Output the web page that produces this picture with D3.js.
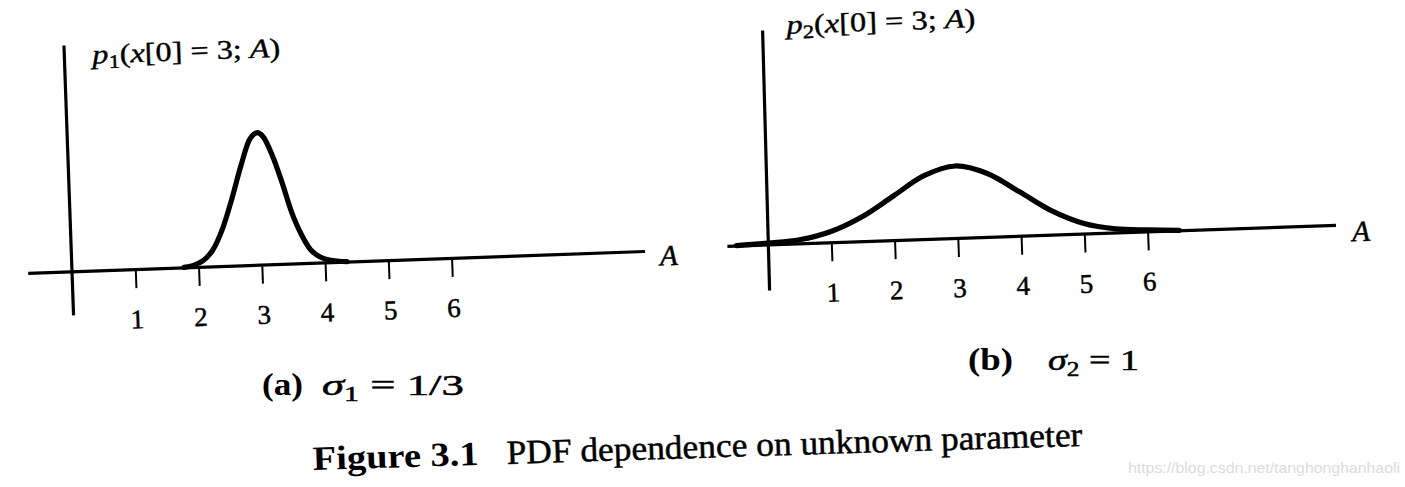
<!DOCTYPE html>
<html>
<head>
<meta charset="utf-8">
<script src="https://cdn.jsdelivr.net/npm/d3@7"></script>
<style>
  html, body { margin: 0; padding: 0; background: #fff; }
  svg { display: block; }
</style>
</head>
<body>
<svg id="chart" width="1405" height="487"></svg>
<script>
// ---------- data ----------
const tickValues = [1, 2, 3, 4, 5, 6];
const tickLabels = ["1", "2", "3", "4", "5", "6"];

// panel (a): sigma1 = 1/3 (relative height)
const aA = [1.77, 1.92, 2.07, 2.23, 2.39, 2.56, 2.73, 2.89, 3.0, 3.09, 3.23, 3.37, 3.5, 3.64, 3.78, 3.92, 4.07, 4.22, 4.35];
const pA = [0.0, 0.013, 0.044, 0.12, 0.27, 0.5, 0.76, 0.96, 1.0, 0.97, 0.82, 0.61, 0.39, 0.22, 0.1, 0.044, 0.016, 0.005, 0.0];

// panel (b): sigma2 = 1
const aB = [-0.5, 0.0, 0.5, 1.0, 1.5, 2.0, 2.5, 3.0, 3.5, 4.0, 4.5, 5.0, 5.5, 6.0, 6.5];
const pB = [0.0, 0.02, 0.05, 0.15, 0.34, 0.61, 0.88, 1.0, 0.88, 0.61, 0.33, 0.14, 0.05, 0.02, 0.0];

const labelA = { p: "p", sub: "1", caption: "(a)", sigmaSub: "1", sigmaVal: "1/3" };
const labelB = { p: "p", sub: "2", caption: "(b)", sigmaSub: "2", sigmaVal: "1" };
const figCaptionBold = "Figure 3.1";
const figCaptionText = "PDF dependence on unknown parameter";
const watermark = "https://blog.csdn.net/tanghonghanhaoli";

// ---------- drawing ----------
const svg = d3.select("#chart");
svg.append("rect").attr("width", 1405).attr("height", 487).attr("fill", "#fff");

const SERIF = "'Liberation Serif', 'Times New Roman', serif";

function ink(sel, w) {
  return sel.attr("fill", "#000").attr("stroke", "#000").attr("stroke-width", w).attr("paint-order", "stroke");
}

function panel(cfg) {
  const g = svg.append("g")
    .attr("transform", `translate(${cfg.ox},${cfg.oy}) rotate(${cfg.rot})`);

  const x = d3.scaleLinear().domain(cfg.xDomain).range([cfg.xDomain[0] * cfg.unit, cfg.xDomain[1] * cfg.unit]);
  const y = d3.scaleLinear().domain([0, 1]).range([0, -cfg.peak]);

  // vertical axis
  g.append("line")
    .attr("x1", cfg.vTopDx).attr("y1", -cfg.vTop)
    .attr("x2", 0).attr("y2", cfg.vBottom)
    .attr("stroke", "#000").attr("stroke-width", 3.2);

  // horizontal axis with ticks
  const axis = d3.axisBottom(x)
    .tickValues(tickValues)
    .tickFormat((d, i) => tickLabels[i])
    .tickSize(19)
    .tickSizeOuter(0)
    .tickPadding(21);
  const ax = g.append("g").call(axis);
  ax.attr("font-family", null).attr("font-size", null);
  ax.select(".domain").attr("stroke", "#000").attr("stroke-width", 3.2);
  ax.selectAll(".tick line").attr("stroke", "#000").attr("stroke-width", 2);
  ink(ax.selectAll(".tick text"), 0.5)
    .style("font-family", SERIF)
    .style("font-size", "27px");

  // curve
  const line = d3.line()
    .x((d, i) => x(cfg.as[i]))
    .y((d) => y(d))
    .curve(d3.curveCatmullRom.alpha(0.5));
  g.append("path")
    .attr("d", line(cfg.ps))
    .attr("fill", "none")
    .attr("stroke", "#000")
    .attr("stroke-width", 5.2)
    .attr("stroke-linejoin", "round")
    .attr("stroke-linecap", "round");

  // y label p_k(x[0] = 3; A)
  const t = ink(g.append("text"), 0.4)
    .attr("x", cfg.lblX).attr("y", cfg.lblY)
    .attr("textLength", cfg.lblW)
    .attr("lengthAdjust", "spacingAndGlyphs")
    .style("font-family", SERIF)
    .style("font-size", "27px");
  t.append("tspan").style("font-style", "italic").text(cfg.lbl.p);
  t.append("tspan").attr("dy", 5).style("font-size", "19px").text(cfg.lbl.sub);
  t.append("tspan").attr("dy", -5).text("(");
  t.append("tspan").style("font-style", "italic").text("x");
  t.append("tspan").text("[0] = 3; ");
  t.append("tspan").style("font-style", "italic").text("A");
  t.append("tspan").text(")");

  // x label A
  ink(g.append("text"), 0.5)
    .attr("x", cfg.aX).attr("y", cfg.aY)
    .attr("text-anchor", "middle")
    .style("font-family", SERIF)
    .style("font-size", "29px")
    .style("font-style", "italic")
    .text("A");

  // sub-caption
  svg.append("text")
    .attr("x", cfg.capX).attr("y", cfg.capY)
    .attr("textLength", cfg.capW)
    .attr("lengthAdjust", "spacingAndGlyphs")
    .style("font-family", SERIF)
    .style("font-size", "31px")
    .style("font-weight", "bold")
    .attr("fill", "#000")
    .text(cfg.lbl.caption);
  const s = ink(svg.append("text"), 0.5)
    .attr("x", cfg.sigX).attr("y", cfg.capY)
    .attr("textLength", cfg.sigW)
    .attr("lengthAdjust", "spacingAndGlyphs")
    .style("font-family", SERIF)
    .style("font-size", "30px");
  s.append("tspan").style("font-style", "italic").text("σ");
  s.append("tspan").attr("dy", 6).style("font-size", "20px").text(cfg.lbl.sigmaSub);
  s.append("tspan").attr("dy", -6).text(" = " + cfg.lbl.sigmaVal);
}

panel({
  ox: 72, oy: 271.4, rot: -2.04, unit: 63.3, xDomain: [-0.7, 9.05],
  peak: 132, as: aA, ps: pA,
  vTop: 226, vTopDx: 0, vBottom: 44,
  lbl: labelA, lblX: 28, lblY: -207, lblW: 188,
  aX: 597, aY: 15,
  capX: 262, capY: 395, capW: 41, sigX: 322, sigW: 142
});

panel({
  ox: 768, oy: 244.5, rot: -1.98, unit: 63.3, xDomain: [-0.65, 8.97],
  peak: 72, as: aB, ps: pB,
  vTop: 214, vTopDx: 2, vBottom: 46,
  lbl: labelB, lblX: 26, lblY: -210, lblW: 189,
  aX: 593, aY: 17,
  capX: 968, capY: 370, capW: 45, sigX: 1048, sigW: 91
});

// figure caption (slightly rotated like the scan)
const fc = svg.append("g").attr("transform", "translate(313,470) rotate(-1.8)");
fc.append("text")
  .attr("x", 0).attr("y", 0)
  .attr("textLength", 166).attr("lengthAdjust", "spacingAndGlyphs")
  .style("font-family", SERIF).style("font-size", "34px").style("font-weight", "bold")
  .attr("fill", "#000").text(figCaptionBold);
ink(fc.append("text"), 0.5)
  .attr("x", 194).attr("y", 0)
  .attr("textLength", 576).attr("lengthAdjust", "spacingAndGlyphs")
  .style("font-family", SERIF).style("font-size", "34px")
  .text(figCaptionText);

// watermark
svg.append("text")
  .attr("x", 1128).attr("y", 473)
  .attr("textLength", 272).attr("lengthAdjust", "spacingAndGlyphs")
  .style("font-family", "'Liberation Sans', Arial, sans-serif")
  .style("font-size", "15px")
  .attr("fill", "#dcdcdc")
  .text(watermark);
</script>
</body>
</html>
